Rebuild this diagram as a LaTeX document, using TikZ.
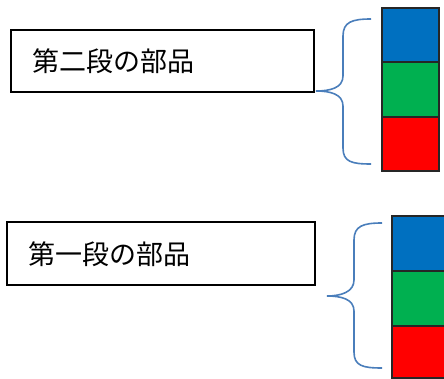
\documentclass[tikz,border=0pt]{standalone}
\usepackage{fontspec}
\newfontfamily\cjk{Noto Sans CJK JP}
\definecolor{bracec}{HTML}{4A7EBB}
\definecolor{blk}{HTML}{0070C0}
\definecolor{grn}{HTML}{00B050}
\definecolor{rd}{HTML}{FF0000}
\tikzset{
  labelbox/.style={draw=black, line width=1.6pt, fill=white},
  labeltext/.style={anchor=west, inner sep=0pt, font=\cjk\fontsize{27}{31}\selectfont},
  part/.style={draw=black!85, line width=1.8pt},
  bracel/.style={draw=bracec, line width=1.6pt}
}
\begin{document}
\begin{tikzpicture}[x=1pt,y=-1pt]
\useasboundingbox (0,0) rectangle (444,379);
% top group
\draw[labelbox] (11,30) rectangle (314,92);
\node[labeltext] (t2) at (32,61) {第二段の部品};
\draw[part, fill=blk] (382,8) rectangle (439,62);
\draw[part, fill=grn] (382,62) rectangle (439,117);
\draw[part, fill=rd] (382,117) rectangle (439,171);
\coordinate (b2top) at (371,19);
\coordinate (b2tip) at (316,91);
\coordinate (b2bot) at (371,164);
\draw[bracel] (b2top) .. controls (352,19) and (343,22) .. (343,36)
  -- (343,76) .. controls (343,88) and (330,91) .. (b2tip)
  .. controls (330,91) and (343,94) .. (343,106)
  -- (343,148) .. controls (343,162) and (352,164) .. (b2bot);
% bottom group
\draw[labelbox] (7,222) rectangle (315,285);
\node[labeltext] (t1) at (28,254) {第一段の部品};
\draw[part, fill=blk] (392,216) rectangle (452,271);
\draw[part, fill=grn] (392,271) rectangle (452,326);
\draw[part, fill=rd] (392,326) rectangle (452,378);
\coordinate (b1top) at (382,223);
\coordinate (b1tip) at (327,296);
\coordinate (b1bot) at (382,368);
\draw[bracel] (b1top) .. controls (363,223) and (354,226) .. (354,240)
  -- (354,280) .. controls (354,292) and (341,296) .. (b1tip)
  .. controls (341,296) and (354,299) .. (354,311)
  -- (354,352) .. controls (354,366) and (363,368) .. (b1bot);
\end{tikzpicture}
\end{document}
